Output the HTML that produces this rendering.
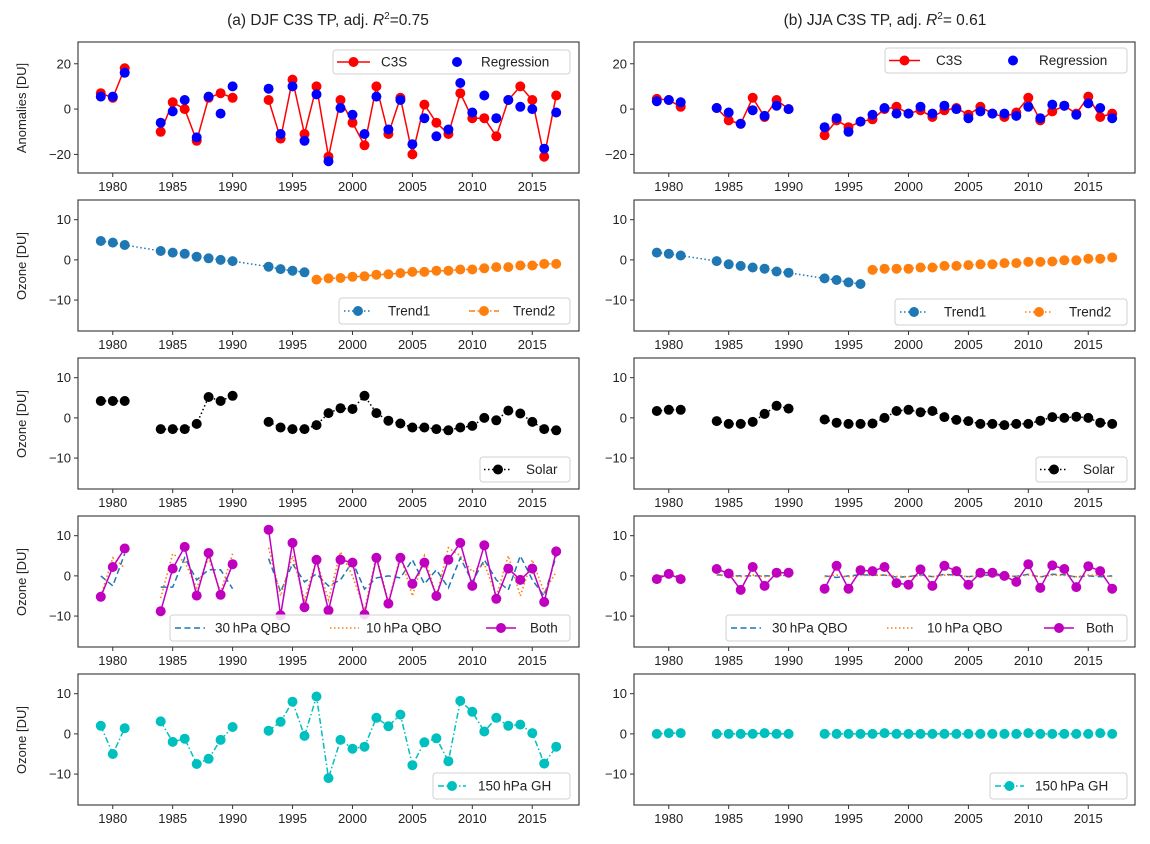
<!DOCTYPE html>
<html>
<head>
<meta charset="utf-8">
<style>
html,body{margin:0;padding:0;background:#fff;}
svg{display:block;font-family:"Liberation Sans","DejaVu Sans",sans-serif;}
</style>
</head>
<body>
<svg id="fig" width="1150" height="844" viewBox="0 0 1150 844" xmlns="http://www.w3.org/2000/svg">
  <rect x="0" y="0" width="1150" height="844" fill="#fff"/>
  <text x="328" y="25" font-size="15.5" text-anchor="middle" fill="#222">(a) DJF C3S TP, adj. <tspan font-style="italic">R</tspan><tspan font-size="10" dy="-6">2</tspan><tspan dy="6">=0.75</tspan></text>
  <text x="885" y="25" font-size="15.5" text-anchor="middle" fill="#222">(b) JJA C3S TP, adj. <tspan font-style="italic">R</tspan><tspan font-size="10" dy="-6">2</tspan><tspan dy="6">= 0.61</tspan></text>
  <text transform="translate(26,108) rotate(-90)" font-size="13" text-anchor="middle" fill="#222">Anomalies [DU]</text>
  <text transform="translate(26,266) rotate(-90)" font-size="13" text-anchor="middle" fill="#222">Ozone [DU]</text>
  <text transform="translate(26,424) rotate(-90)" font-size="13" text-anchor="middle" fill="#222">Ozone [DU]</text>
  <text transform="translate(26,582) rotate(-90)" font-size="13" text-anchor="middle" fill="#222">Ozone [DU]</text>
  <text transform="translate(26,740) rotate(-90)" font-size="13" text-anchor="middle" fill="#222">Ozone [DU]</text>
</svg>
<script>
const years = [1979,1980,1981,1984,1985,1986,1987,1988,1989,1990,1993,1994,1995,1996,1997,1998,1999,2000,2001,2002,2003,2004,2005,2006,2007,2008,2009,2010,2011,2012,2013,2014,2015,2016,2017];
const xTicks = [1980,1985,1990,1995,2000,2005,2010,2015];
const yTicksAnom = [20,0,-20];
const yTicksOzone = [10,0,-10];

// (a) DJF
const djfC3S = [7,5,18,-10,3,0,-14,5,7,5,4,-13,13,-11,10,-21,4,-6,-16,10,-11,5,-20,2,-6,-11,7,-4,-4,-12,4,10,4,-21,6];
const djfReg = [5.5,5.5,16,-6,-1,4,-12.5,5.5,-2,10,9,-11,10,-14,6.5,-23,0.5,-2.5,-11,5.5,-9,4,-15.5,-4,-12,-9,11.5,-1.5,6,-4,4,1,0,-17.5,-1.5];
const djfTrend1Years = [1979,1980,1981,1984,1985,1986,1987,1988,1989,1990,1993,1994,1995,1996];
const djfTrend1 = [4.7,4.3,3.7,2.2,1.8,1.5,0.8,0.4,0,-0.3,-1.7,-2.3,-2.7,-3.1];
const djfTrend2Years = [1997,1998,1999,2000,2001,2002,2003,2004,2005,2006,2007,2008,2009,2010,2011,2012,2013,2014,2015,2016,2017];
const djfTrend2 = [-4.9,-4.6,-4.5,-4.2,-4.1,-3.7,-3.6,-3.3,-3,-3,-2.7,-2.7,-2.4,-2.4,-2.1,-1.8,-1.8,-1.4,-1.4,-1,-1];
const djfSolar = [4.2,4.2,4.2,-2.8,-2.8,-2.8,-1.5,5.2,4.2,5.5,-1,-2.4,-2.8,-2.8,-1.8,1.2,2.4,2.2,5.5,1.2,-0.7,-1.4,-2.4,-2.4,-2.8,-3.1,-2.4,-2,0,-0.6,1.8,1.1,-1,-2.8,-3.1];
const djfQbo30 = [0,-2.5,5.5,-2.8,-2.8,4.5,-1,1.5,1.5,-3.2,4.3,-4,3,-1.5,0.5,-2.5,-1,3.5,-3.3,-0.5,0,-0.5,4,-2,1.5,-3,4.5,-1.5,4,-1,-3.5,5,-1,-5,5];
const djfQbo10 = [-5,4.5,2,-5.5,5.5,3.5,-3,4.5,-4,5.5,7,-5,5,-6,4,-6,6,0,-8.5,5,-6.5,5,-5,5,-5,7,5,1,3,-5,5,-5,4,-4,1];
const djfBoth = [-5.2,2.2,6.8,-8.8,1.8,7.2,-4.9,5.7,-4.7,2.9,11.5,-9.8,8.2,-7.8,4,-8.6,4,3.3,-9.6,4.5,-6.9,4.5,-2,3.3,-5,4,8.2,-2.5,7.6,-5.7,1.8,-1,1.8,-6.5,6.1];
const djfGH = [2,-5,1.4,3.1,-2,-1.2,-7.5,-6.2,-1.5,1.7,0.8,3,8,-0.5,9.3,-11,-1.5,-3.7,-3.2,4,1.9,4.8,-7.8,-2.1,-1.1,-6.8,8.2,5.5,0.6,4,2,2.3,0.2,-7.4,-3.2];

// (b) JJA
const jjaC3S = [4.5,4,1,0.5,-5,-6.5,5,-3.5,4,0,-11.5,-5,-8,-5.5,-4.5,0,1,-2,-0.5,-3.5,-0.5,0.5,-2.5,1,-2,-3.5,-1.5,5,-5,-1,1.5,-2,5.5,-3.5,-2];
const jjaReg = [3.5,4,3,0.5,-1.5,-6.5,-0.5,-3,1.5,0,-8,-4,-10,-5.5,-2.5,0.5,-2,-2,1,-2,1.5,0,-4,-1,-2,-2,-3,1,-4,2,1.5,-2.5,2.5,0.5,-4];
const jjaTrend1Years = [1979,1980,1981,1984,1985,1986,1987,1988,1989,1990,1993,1994,1995,1996];
const jjaTrend1 = [1.8,1.5,1.1,-0.3,-1.1,-1.5,-1.9,-2.2,-2.9,-3.2,-4.6,-5,-5.6,-6];
const jjaTrend2Years = [1997,1998,1999,2000,2001,2002,2003,2004,2005,2006,2007,2008,2009,2010,2011,2012,2013,2014,2015,2016,2017];
const jjaTrend2 = [-2.5,-2.2,-2.2,-2.2,-1.9,-1.9,-1.5,-1.5,-1.3,-1.1,-1.1,-0.8,-0.8,-0.5,-0.5,-0.4,-0.1,-0.1,0.3,0.3,0.6];
const jjaSolar = [1.7,2,2,-0.8,-1.5,-1.5,-1,1,3,2.3,-0.4,-1.2,-1.5,-1.5,-1.4,0,1.7,2,1.4,1.7,0.2,-0.5,-0.8,-1.5,-1.5,-1.8,-1.5,-1.5,-0.7,0.2,0,0.3,0,-1.2,-1.5];
const jjaQbo30 = [0,0,0,0.3,0,0,0,0,0,0.2,0,-0.4,0,0.3,0.2,0.2,-0.3,-0.2,0.3,-0.2,0.4,0.2,-0.2,0.2,0.2,0,-0.1,0.4,-0.3,0.4,0.3,-0.3,0,-0.2,0];
const jjaQbo10 = [0,0,0,0.2,0,-0.2,0.2,-0.2,0.1,0.1,-0.2,0.2,-0.2,0.1,0.1,0.2,-0.1,-0.2,0.1,-0.2,0.2,0.1,-0.2,0.1,0.1,0,-0.1,0.2,-0.2,0.2,0.1,-0.2,0.2,0.1,-0.2];
const jjaBoth = [-0.8,0.5,-0.8,1.7,0.6,-3.5,2.2,-2.5,0.8,0.8,-3.2,2.5,-3.2,1.4,1.2,2.2,-1.8,-2.2,1.6,-2.5,2.5,1.2,-2.2,0.8,0.8,0,-1.5,2.9,-3,2.6,1.7,-2.8,2.4,1.2,-3.2];
const jjaGH = [0,0.2,0.2,0,0,0,0,0.2,0,0,0,0,0,0,0,0.2,0,0,0,0,0,0,0,0,0,0,0,0.2,0,0,0,0,0,0.2,0];

const NS = 'http://www.w3.org/2000/svg';
const svg = document.getElementById('fig');
const XMIN = 1977.1, XMAX = 2018.9;
const COLS = [[78,579],[634,1135]];
const ROW_TOP = 42, ROW_STEP = 158, ROW_H = 131;

function mk(tag, attrs, parent) {
  const el = document.createElementNS(NS, tag);
  for (const k in attrs) el.setAttribute(k, attrs[k]);
  (parent || svg).appendChild(el);
  return el;
}

function makeAxes(col, row, ymin, ymax, yTicks, name) {
  const x0 = COLS[col][0], x1 = COLS[col][1];
  const y0 = ROW_TOP + row * ROW_STEP, y1 = y0 + ROW_H;
  const g = mk('g', {});
  
  
  const ax = {
    g, x0, x1, y0, y1,
    sx: v => x0 + (v - XMIN) / (XMAX - XMIN) * (x1 - x0),
    sy: v => y1 - (v - ymin) / (ymax - ymin) * (y1 - y0)
  };
  const frame = mk('rect', {x: x0, y: y0, width: x1 - x0, height: y1 - y0, fill: 'none', stroke: '#333', 'stroke-width': 1.1}, g);
  
  
  xTicks.forEach(t => {
    const x = ax.sx(t);
    mk('line', {x1: x, x2: x, y1: y1, y2: y1 + 4, stroke: '#333', 'stroke-width': 1}, g);
    const tl = mk('text', {x: x, y: y1 + 18, 'font-size': 13, 'text-anchor': 'middle', fill: '#222'}, g);
    tl.textContent = t;
    
    
  });
  yTicks.forEach(t => {
    const y = ax.sy(t);
    mk('line', {x1: x0 - 4, x2: x0, y1: y, y2: y, stroke: '#333', 'stroke-width': 1}, g);
    const tl = mk('text', {x: x0 - 7, y: y + 4.5, 'font-size': 13, 'text-anchor': 'end', fill: '#222'}, g);
    tl.textContent = t < 0 ? '\u2212' + Math.abs(t) : String(t);
    
    
  });
  return ax;
}

function drawLine(ax, xs, vals, color, dash, width, breakGaps, name) {
  let segs = [], cur = [];
  for (let i = 0; i < xs.length; i++) {
    if (i > 0 && breakGaps && xs[i] - xs[i - 1] > 1) { segs.push(cur); cur = []; }
    cur.push([ax.sx(xs[i]), ax.sy(vals[i])]);
  }
  segs.push(cur);
  segs.forEach(s => {
    if (s.length < 2) return;
    const p = mk('polyline', {points: s.map(q => q[0].toFixed(1) + ',' + q[1].toFixed(1)).join(' '), fill: 'none', stroke: color, 'stroke-width': width, 'stroke-dasharray': dash || 'none'}, ax.g);
    
    
  });
}

function drawMarkers(ax, xs, vals, color, name) {
  for (let i = 0; i < xs.length; i++) {
    const c = mk('circle', {cx: ax.sx(xs[i]).toFixed(1), cy: ax.sy(vals[i]).toFixed(1), r: 5, fill: color}, ax.g);
    
    
  }
}

function legend(bx0, bx1, by0, by1, items, name) {
  const g = mk('g', {});
  
  
  mk('rect', {x: bx0, y: by0, width: bx1 - bx0, height: by1 - by0, rx: 3, fill: '#fff', 'fill-opacity': 0.85, stroke: '#d0d0d0', 'stroke-width': 1}, g);
  const cy = (by0 + by1) / 2;
  items.forEach(it => {
    const eg = mk('g', {}, g);
    
    
    if (it.line) mk('line', {x1: it.h0, x2: it.h1, y1: cy, y2: cy, stroke: it.color, 'stroke-width': it.w || 1.6, 'stroke-dasharray': it.dash || 'none'}, eg);
    if (it.marker) mk('circle', {cx: (it.h0 + it.h1) / 2, cy: cy, r: 5, fill: it.color}, eg);
    const t = mk('text', {x: it.tx, y: cy + 4.5, 'font-size': 13.5, fill: '#222'}, eg);
    t.textContent = it.label;
  });
}

const DOT = '1.5,2.5', DASHDOT = '6,2.5,1.5,2.5', DASH = '6,3.5';
const MAG = '#bf00bf', CYAN = '#00bfbf', T1 = '#1f77b4', T2 = '#ff7f0e';

// ---- Row 1: anomalies
[[0, djfC3S, djfReg], [1, jjaC3S, jjaReg]].forEach(([c, obs, reg]) => {
  const ax = makeAxes(c, 0, -28.2, 29.6, yTicksAnom, c ? 'panel-jja-anomalies' : 'panel-djf-anomalies');
  drawLine(ax, years, obs, '#ff0000', null, 1.5, true, 'c3s-line');
  drawMarkers(ax, years, obs, '#ff0000', 'c3s-point');
  drawMarkers(ax, years, reg, '#0000ff', 'regression-point');
});
legend(333, 570, 50, 74, [
  {label: 'C3S', color: '#ff0000', line: true, marker: true, h0: 337, h1: 370, tx: 381},
  {label: 'Regression', color: '#0000ff', marker: true, h0: 442, h1: 472, tx: 481}
], 'legend-anomalies-left');
legend(885, 1127, 48, 73, [
  {label: 'C3S', color: '#ff0000', line: true, marker: true, h0: 889, h1: 920, tx: 936},
  {label: 'Regression', color: '#0000ff', marker: true, h0: 998, h1: 1028, tx: 1039}
], 'legend-anomalies-right');

// ---- Row 2: trends
[[0, djfTrend1Years, djfTrend1, djfTrend2Years, djfTrend2, DASHDOT], [1, jjaTrend1Years, jjaTrend1, jjaTrend2Years, jjaTrend2, DOT]].forEach(([c, ty1, t1, ty2, t2, d2]) => {
  const ax = makeAxes(c, 1, -17.7, 14.9, yTicksOzone, c ? 'panel-jja-trend' : 'panel-djf-trend');
  drawLine(ax, ty1, t1, T1, DOT, 1.5, false, 'trend1-line');
  drawMarkers(ax, ty1, t1, T1, 'trend1-point');
  drawLine(ax, ty2, t2, T2, d2, 1.5, false, 'trend2-line');
  drawMarkers(ax, ty2, t2, T2, 'trend2-point');
});
legend(339, 570, 298, 324, [
  {label: 'Trend1', color: T1, line: true, dash: DOT, marker: true, h0: 344, h1: 372, tx: 388},
  {label: 'Trend2', color: T2, line: true, dash: DASHDOT, marker: true, h0: 469, h1: 499, tx: 513}
], 'legend-trend-left');
legend(895, 1127, 299, 325, [
  {label: 'Trend1', color: T1, line: true, dash: DOT, marker: true, h0: 900, h1: 928, tx: 944},
  {label: 'Trend2', color: T2, line: true, dash: DOT, marker: true, h0: 1025, h1: 1053, tx: 1069}
], 'legend-trend-right');

// ---- Row 3: solar
[[0, djfSolar], [1, jjaSolar]].forEach(([c, s]) => {
  const ax = makeAxes(c, 2, -17.7, 14.9, yTicksOzone, c ? 'panel-jja-solar' : 'panel-djf-solar');
  drawLine(ax, years, s, '#000', DOT, 1.5, true, 'solar-line');
  drawMarkers(ax, years, s, '#000', 'solar-point');
});
legend(480, 570, 457, 482, [
  {label: 'Solar', color: '#000', line: true, dash: DOT, marker: true, h0: 484, h1: 512, tx: 526}
], 'legend-solar-left');
legend(1036, 1127, 457, 482, [
  {label: 'Solar', color: '#000', line: true, dash: DOT, marker: true, h0: 1040, h1: 1068, tx: 1083}
], 'legend-solar-right');

// ---- Row 4: QBO
[[0, djfQbo30, djfQbo10, djfBoth], [1, jjaQbo30, jjaQbo10, jjaBoth]].forEach(([c, q30, q10, both]) => {
  const ax = makeAxes(c, 3, -17.7, 14.9, yTicksOzone, c ? 'panel-jja-qbo' : 'panel-djf-qbo');
  drawLine(ax, years, q30, T1, DASH, 1.5, true, 'qbo30-line');
  drawLine(ax, years, q10, T2, DOT, 1.6, true, 'qbo10-line');
  drawLine(ax, years, both, MAG, null, 1.5, true, 'qbo-both-line');
  drawMarkers(ax, years, both, MAG, 'qbo-both-point');
});
legend(170, 570, 615, 641, [
  {label: '30\u2009hPa QBO', color: T1, line: true, dash: DASH, h0: 175, h1: 205, tx: 215},
  {label: '10\u2009hPa QBO', color: T2, line: true, dash: DOT, h0: 330, h1: 359, tx: 366},
  {label: 'Both', color: MAG, line: true, marker: true, h0: 486, h1: 516, tx: 530}
], 'legend-qbo-left');
legend(726, 1127, 615, 641, [
  {label: '30\u2009hPa QBO', color: T1, line: true, dash: DASH, h0: 731, h1: 761, tx: 772},
  {label: '10\u2009hPa QBO', color: T2, line: true, dash: DOT, h0: 887, h1: 915, tx: 927},
  {label: 'Both', color: MAG, line: true, marker: true, h0: 1044, h1: 1074, tx: 1086}
], 'legend-qbo-right');

// ---- Row 5: 150 hPa GH
[[0, djfGH], [1, jjaGH]].forEach(([c, gh]) => {
  const ax = makeAxes(c, 4, -17.7, 14.9, yTicksOzone, c ? 'panel-jja-gh' : 'panel-djf-gh');
  drawLine(ax, years, gh, CYAN, DASHDOT, 1.5, true, 'gh-line');
  drawMarkers(ax, years, gh, CYAN, 'gh-point');
});
legend(433, 570, 773, 799, [
  {label: '150\u2009hPa GH', color: CYAN, line: true, dash: DASHDOT, marker: true, h0: 438, h1: 466, tx: 478}
], 'legend-gh-left');
legend(990, 1127, 773, 799, [
  {label: '150\u2009hPa GH', color: CYAN, line: true, dash: DASHDOT, marker: true, h0: 995, h1: 1024, tx: 1035}
], 'legend-gh-right');
</script>
</body>
</html>
